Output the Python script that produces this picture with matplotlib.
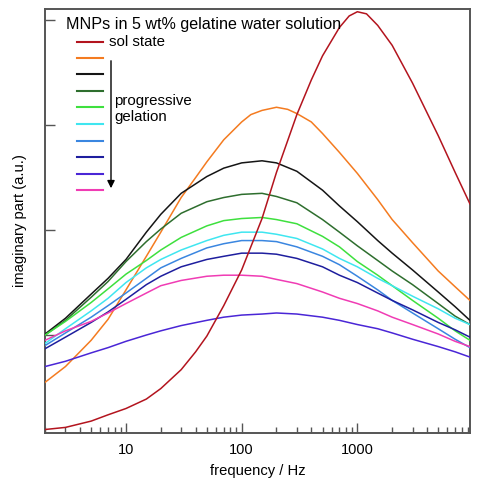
import matplotlib
matplotlib.use('Agg')
import matplotlib.pyplot as plt
from matplotlib.ticker import LogLocator, NullFormatter, FixedLocator

plt.rcParams['font.family'] = ['Liberation Sans', 'DejaVu Sans']

freq = [2, 3, 5, 7, 10, 15, 20, 30, 50, 70, 100, 150, 200, 300, 500, 700,
        1000, 1500, 2000, 3000, 5000, 7000, 9400]
freq_sol = [2, 3, 5, 7, 10, 15, 20, 30, 40, 50, 70, 100, 150, 200, 300, 400, 500,
            700, 850, 1000, 1200, 1500, 2000, 3000, 5000, 7000, 9400]
freq_gel_1 = [2, 3, 5, 7, 10, 15, 20, 30, 40, 50, 70, 100, 120, 150, 200, 250, 300,
              400, 500, 700, 1000, 1500, 2000, 3000, 5000, 7000, 9400]

# imaginary part (a.u.), sol state first, then progressive gelation
sol_state = [0.10, 0.12, 0.18, 0.24, 0.30, 0.39, 0.49, 0.67, 0.84, 0.99, 1.28, 1.62,
             2.11, 2.55, 3.10, 3.43, 3.66, 3.93, 4.04, 4.08, 4.06, 3.95, 3.76, 3.40,
             2.90, 2.55, 2.25]
gel_1 = [0.55, 0.70, 0.95, 1.15, 1.43, 1.75, 1.98, 2.31, 2.50, 2.65, 2.86, 3.03,
         3.10, 3.14, 3.17, 3.15, 3.11, 3.03, 2.92, 2.74, 2.54, 2.29, 2.10, 1.88,
         1.61, 1.46, 1.33]
gel_2 = [1.01, 1.16, 1.39, 1.54, 1.72, 1.98, 2.15, 2.35, 2.51, 2.59, 2.64, 2.66,
         2.64, 2.56, 2.38, 2.23, 2.08, 1.90, 1.78, 1.62, 1.41, 1.27, 1.14]
gel_3 = [1.00, 1.14, 1.36, 1.51, 1.70, 1.89, 2.01, 2.16, 2.27, 2.31, 2.34, 2.35,
         2.32, 2.26, 2.10, 1.98, 1.85, 1.71, 1.61, 1.48, 1.30, 1.18, 1.10]
gel_4 = [1.00, 1.13, 1.31, 1.44, 1.58, 1.71, 1.81, 1.93, 2.04, 2.09, 2.11, 2.12,
         2.10, 2.06, 1.94, 1.84, 1.70, 1.57, 1.47, 1.33, 1.16, 1.04, 0.95]
gel_5 = [0.92, 1.06, 1.23, 1.35, 1.50, 1.64, 1.72, 1.81, 1.90, 1.95, 1.98, 1.98,
         1.96, 1.92, 1.82, 1.73, 1.65, 1.54, 1.47, 1.37, 1.25, 1.16, 1.10]
gel_6 = [0.90, 1.02, 1.17, 1.28, 1.40, 1.54, 1.64, 1.73, 1.83, 1.87, 1.90, 1.90,
         1.89, 1.84, 1.75, 1.67, 1.56, 1.43, 1.33, 1.21, 1.06, 0.96, 0.88]
gel_7 = [0.87, 0.98, 1.12, 1.22, 1.34, 1.48, 1.56, 1.65, 1.72, 1.75, 1.78, 1.78,
         1.77, 1.73, 1.65, 1.57, 1.50, 1.40, 1.33, 1.24, 1.12, 1.05, 0.98]
gel_8 = [0.70, 0.75, 0.83, 0.88, 0.94, 1.00, 1.04, 1.09, 1.14, 1.17, 1.19, 1.20,
         1.21, 1.20, 1.17, 1.14, 1.10, 1.06, 1.02, 0.96, 0.89, 0.84, 0.79]
gel_9 = [0.95, 1.04, 1.13, 1.21, 1.30, 1.40, 1.47, 1.52, 1.56, 1.57, 1.57, 1.56,
         1.53, 1.49, 1.41, 1.35, 1.30, 1.23, 1.17, 1.10, 1.01, 0.94, 0.89]

xs = [freq_sol, freq_gel_1] + [freq] * 8
series = [sol_state, gel_1, gel_2, gel_3, gel_4, gel_5, gel_6, gel_7, gel_8, gel_9]
colors = ['#b3141e', '#f47b20', '#151515', '#2e6e2e', '#3ee03e',
          '#3fe6f0', '#3a86e0', '#1e1e9e', '#4a26d6', '#f03cb4']

fig = plt.figure(figsize=(4.8, 4.8), dpi=100)
ax = fig.add_axes([0.094, 0.098, 0.885, 0.883])

for i, (x, y, c) in enumerate(zip(xs, series, colors)):
    ax.plot(x, y, color=c, lw=1.1, zorder=5 if i == 0 else 3)

ax.set_xscale('log')
ax.set_xlim(2, 9400)
ax.set_ylim(0.067, 4.105)

ax.xaxis.set_major_locator(FixedLocator([10, 100, 1000]))
ax.xaxis.set_minor_locator(LogLocator(base=10, subs=range(2, 10)))
ax.xaxis.set_minor_formatter(NullFormatter())
ax.set_xticklabels(['10', '100', '1000'])
ax.set_yticks([1, 2, 3, 4])
ax.set_yticklabels([])

ax.tick_params(axis='both', which='major', direction='in', length=7, width=1,
               color='#555555', labelsize=10.5, pad=7, top=False, right=False)
ax.tick_params(axis='x', which='minor', direction='in', length=4, width=1,
               color='#555555', top=False)
for sp in ax.spines.values():
    sp.set_color('#555555')
    sp.set_linewidth(1.4)

ax.set_xlabel('frequency / Hz', fontsize=10.6, labelpad=5)
ax.set_ylabel('imaginary part (a.u.)', fontsize=10.6, labelpad=6)

# hand drawn legend in figure pixels
W = 480.0
def fx(px):
    return px / W
def fy(py):
    return 1 - py / W

fig.text(fx(66), fy(24), 'MNPs in 5 wt% gelatine water solution', fontsize=11.6,
         va='center', ha='left')
row_y = [42, 58, 74, 91, 107, 124, 141, 157, 174, 190]
for c, ry in zip(colors, row_y):
    fig.add_artist(plt.Line2D([fx(77), fx(103)], [fy(ry), fy(ry)], color=c, lw=1.5,
                              transform=fig.transFigure))
fig.text(fx(109), fy(42), 'sol state', fontsize=10.8, va='center', ha='left')
fig.text(fx(114), fy(109), 'progressive\ngelation', fontsize=10.8, va='center',
         ha='left', linespacing=1.2)
ax.annotate('', xy=(fx(111), fy(191)), xytext=(fx(111), fy(58)),
            xycoords='figure fraction', textcoords='figure fraction',
            arrowprops=dict(arrowstyle='-|>', color='black', lw=1.0,
                            mutation_scale=11))

plt.savefig('out.png', dpi=100)
